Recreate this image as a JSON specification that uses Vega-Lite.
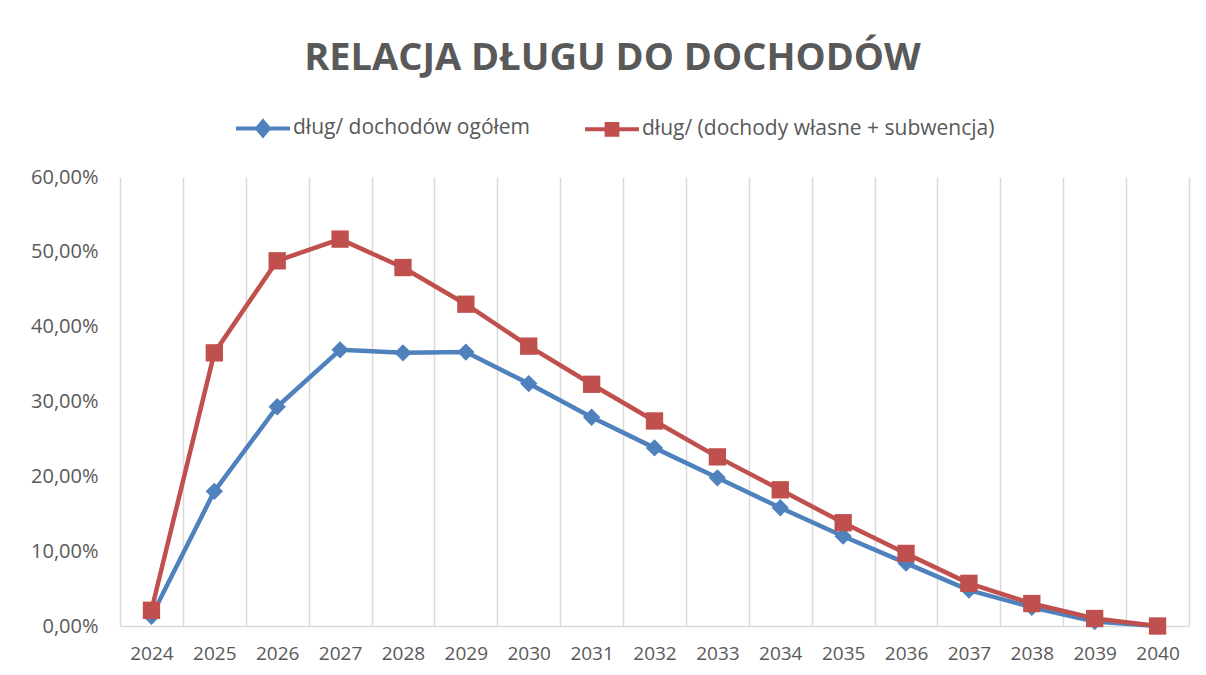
{
  "$schema": "https://vega.github.io/schema/vega-lite/v6.json",
  "width": 1069,
  "height": 449,
  "autosize": "none",
  "padding": {"left": 120, "top": 177, "right": 17, "bottom": 49},
  "background": "white",
  "title": {
    "text": "RELACJA DŁUGU DO DOCHODÓW",
    "font": "Open Sans",
    "fontSize": 38,
    "fontWeight": "bold",
    "color": "#595959",
    "anchor": "middle",
    "baseline": "alphabetic",
    "offset": 28,
    "dx": -42,
    "dy": 37
  },
  "config": {
    "view": {"stroke": null},
    "font": "Open Sans"
  },
  "data": {
    "values": [
      {"rok": 2024, "seria": "dług/ dochodów ogółem", "wartosc": 0.013},
      {"rok": 2025, "seria": "dług/ dochodów ogółem", "wartosc": 0.180},
      {"rok": 2026, "seria": "dług/ dochodów ogółem", "wartosc": 0.293},
      {"rok": 2027, "seria": "dług/ dochodów ogółem", "wartosc": 0.369},
      {"rok": 2028, "seria": "dług/ dochodów ogółem", "wartosc": 0.365},
      {"rok": 2029, "seria": "dług/ dochodów ogółem", "wartosc": 0.366},
      {"rok": 2030, "seria": "dług/ dochodów ogółem", "wartosc": 0.324},
      {"rok": 2031, "seria": "dług/ dochodów ogółem", "wartosc": 0.279},
      {"rok": 2032, "seria": "dług/ dochodów ogółem", "wartosc": 0.238},
      {"rok": 2033, "seria": "dług/ dochodów ogółem", "wartosc": 0.198},
      {"rok": 2034, "seria": "dług/ dochodów ogółem", "wartosc": 0.158},
      {"rok": 2035, "seria": "dług/ dochodów ogółem", "wartosc": 0.120},
      {"rok": 2036, "seria": "dług/ dochodów ogółem", "wartosc": 0.084},
      {"rok": 2037, "seria": "dług/ dochodów ogółem", "wartosc": 0.048},
      {"rok": 2038, "seria": "dług/ dochodów ogółem", "wartosc": 0.025},
      {"rok": 2039, "seria": "dług/ dochodów ogółem", "wartosc": 0.006},
      {"rok": 2040, "seria": "dług/ dochodów ogółem", "wartosc": 0.0},
      {"rok": 2024, "seria": "dług/ (dochody własne + subwencja)", "wartosc": 0.021},
      {"rok": 2025, "seria": "dług/ (dochody własne + subwencja)", "wartosc": 0.365},
      {"rok": 2026, "seria": "dług/ (dochody własne + subwencja)", "wartosc": 0.488},
      {"rok": 2027, "seria": "dług/ (dochody własne + subwencja)", "wartosc": 0.517},
      {"rok": 2028, "seria": "dług/ (dochody własne + subwencja)", "wartosc": 0.479},
      {"rok": 2029, "seria": "dług/ (dochody własne + subwencja)", "wartosc": 0.430},
      {"rok": 2030, "seria": "dług/ (dochody własne + subwencja)", "wartosc": 0.374},
      {"rok": 2031, "seria": "dług/ (dochody własne + subwencja)", "wartosc": 0.323},
      {"rok": 2032, "seria": "dług/ (dochody własne + subwencja)", "wartosc": 0.274},
      {"rok": 2033, "seria": "dług/ (dochody własne + subwencja)", "wartosc": 0.226},
      {"rok": 2034, "seria": "dług/ (dochody własne + subwencja)", "wartosc": 0.182},
      {"rok": 2035, "seria": "dług/ (dochody własne + subwencja)", "wartosc": 0.138},
      {"rok": 2036, "seria": "dług/ (dochody własne + subwencja)", "wartosc": 0.097},
      {"rok": 2037, "seria": "dług/ (dochody własne + subwencja)", "wartosc": 0.057},
      {"rok": 2038, "seria": "dług/ (dochody własne + subwencja)", "wartosc": 0.030},
      {"rok": 2039, "seria": "dług/ (dochody własne + subwencja)", "wartosc": 0.010},
      {"rok": 2040, "seria": "dług/ (dochody własne + subwencja)", "wartosc": 0.0}
    ]
  },
  "encoding": {
    "x": {
      "field": "rok",
      "type": "quantitative",
      "scale": {"domain": [2023.5, 2040.5], "nice": false, "zero": false},
      "axis": {
        "title": null,
        "values": [2023.5, 2024, 2024.5, 2025, 2025.5, 2026, 2026.5, 2027, 2027.5, 2028, 2028.5, 2029, 2029.5, 2030, 2030.5, 2031, 2031.5, 2032, 2032.5, 2033, 2033.5, 2034, 2034.5, 2035, 2035.5, 2036, 2036.5, 2037, 2037.5, 2038, 2038.5, 2039, 2039.5, 2040, 2040.5],
        "labelExpr": "datum.value % 1 === 0 ? '' + datum.value : ''",
        "grid": true,
        "gridColor": {"condition": {"test": "datum.value % 1 !== 0", "value": "#D9D9D9"}, "value": "transparent"},
        "gridWidth": 1.5,
        "ticks": false,
        "domain": true,
        "domainColor": "#D9D9D9",
        "domainWidth": 1.5,
        "labelFont": "Open Sans",
        "labelFontSize": 19,
        "labelColor": "#595959",
        "labelPadding": 18,
        "labelOverlap": false,
        "labelFlush": false,
        "labelBound": false
      }
    },
    "y": {
      "field": "wartosc",
      "type": "quantitative",
      "scale": {"domain": [0, 0.6], "nice": false},
      "axis": {
        "title": null,
        "values": [0, 0.1, 0.2, 0.3, 0.4, 0.5, 0.6],
        "labelExpr": "replace(format(datum.value, '.2%'), '.', ',')",
        "grid": false,
        "ticks": false,
        "domain": false,
        "labelFont": "Open Sans",
        "labelFontSize": 20,
        "labelColor": "#595959",
        "labelPadding": 22
      }
    },
    "color": {
      "field": "seria",
      "type": "nominal",
      "sort": ["dług/ dochodów ogółem", "dług/ (dochody własne + subwencja)"],
      "scale": {
        "domain": ["dług/ dochodów ogółem", "dług/ (dochody własne + subwencja)"],
        "range": ["#4F81BD", "#C0504D"]
      },
      "legend": {
        "title": null,
        "orient": "none",
        "direction": "horizontal",
        "legendX": 114,
        "legendY": -78,
        "padding": 0,
        "symbolSize": 2916,
        "symbolStrokeWidth": 4,
        "labelOffset": 1,
        "columnPadding": 46,
        "labelFont": "Open Sans",
        "labelFontSize": 21,
        "labelColor": "#595959",
        "labelLimit": 500,
        "encode": {
          "symbols": {
            "update": {
              "shape": {"signal": "datum.index === 0 ? 'M-1,0H1M0,-0.26L0.22,0L0,0.26L-0.22,0Z' : 'M-1,0H1M-0.2,-0.2H0.2V0.2H-0.2Z'"},
              "size": {"value": 2916},
              "fill": {"signal": "datum.index === 0 ? '#4F81BD' : '#C0504D'"},
              "stroke": {"signal": "datum.index === 0 ? '#4F81BD' : '#C0504D'"},
              "strokeWidth": {"value": 4},
              "opacity": {"value": 1},
              "fillOpacity": {"value": 1},
              "strokeOpacity": {"value": 1}
            }
          }
        }
      }
    }
  },
  "layer": [
    {
      "mark": {"type": "line", "strokeWidth": 4.5, "strokeJoin": "round"},
      "encoding": {
        "detail": {"field": "seria"}
      }
    },
    {
      "transform": [{"filter": "datum.seria === 'dług/ dochodów ogółem'"}],
      "mark": {"type": "point", "filled": true, "opacity": 1, "size": 300, "shape": "diamond"}
    },
    {
      "transform": [{"filter": "datum.seria === 'dług/ (dochody własne + subwencja)'"}],
      "mark": {"type": "point", "filled": true, "opacity": 1, "size": 300, "shape": "square"}
    }
  ]
}
